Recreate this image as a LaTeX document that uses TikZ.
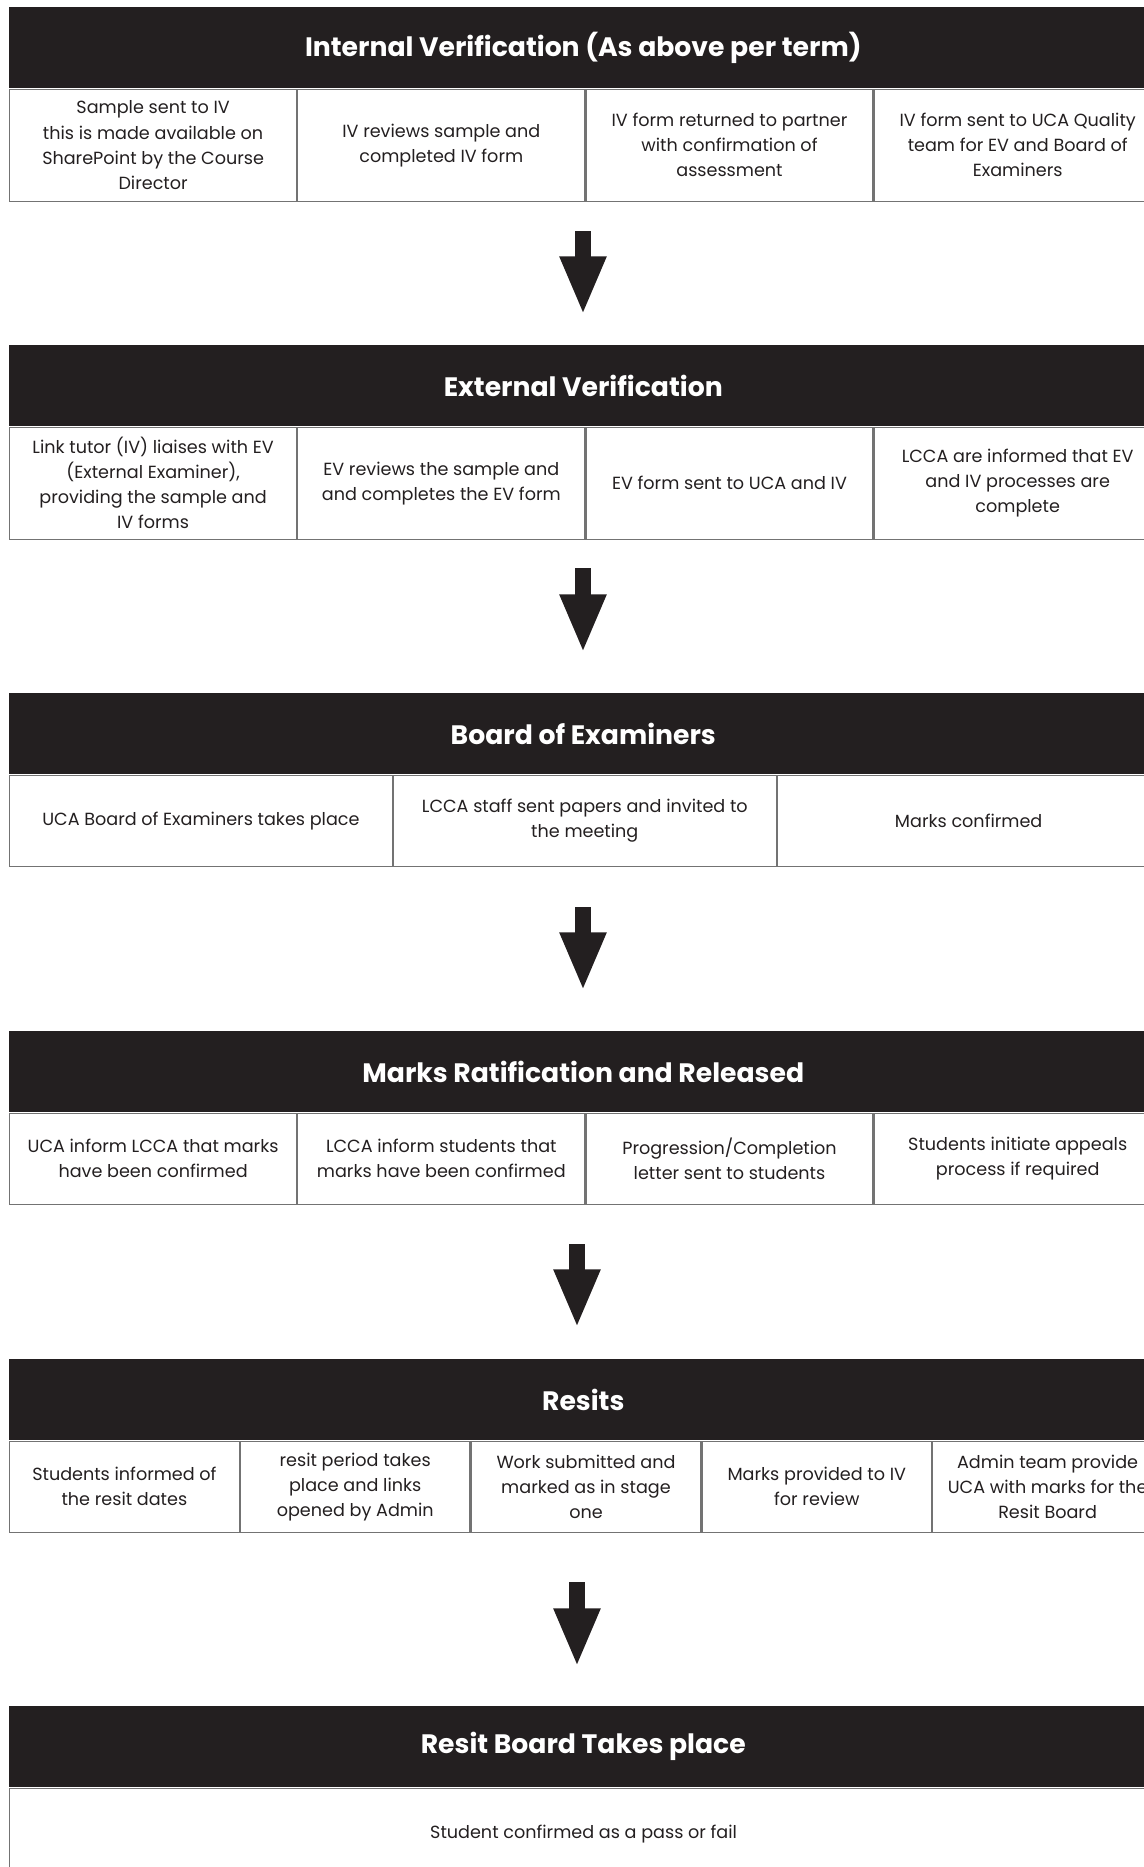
\documentclass[tikz,border=0pt]{standalone}
\usepackage{fontspec}
\setmainfont{Poppins}
\usepackage{tikz}
\usetikzlibrary{positioning}
\usetikzlibrary{arrows.meta}
\definecolor{hdrblack}{HTML}{231F20}
\tikzstyle{hdr}=[fill=hdrblack, text=white, anchor=north west, inner sep=0pt, minimum width=861pt, minimum height=60.75pt, font=\bfseries\fontsize{20}{24}\selectfont]
\tikzstyle{cell}=[draw=black!55, line width=0.9pt, text=hdrblack, align=center, inner sep=0pt, anchor=north west, font=\fontsize{13.2}{18.8}\selectfont]
\tikzstyle{colfour}=[cell, minimum width=215.25pt, minimum height=84pt]
\tikzstyle{colthree}=[cell, minimum width=287pt, minimum height=68.5pt]
\tikzstyle{colfive}=[cell, minimum width=172.2pt, minimum height=68.5pt]
\tikzstyle{colone}=[cell, minimum width=861pt, minimum height=68.5pt]
\tikzstyle{bigarrow}=[line width=12pt, hdrblack, -{Triangle[width=32pt,length=44pt]}]

\begin{document}
\begin{tikzpicture}[x=0.75pt, y=-0.75pt]
\useasboundingbox (0,0) rectangle (1144,1867);
% internal verification
\node[hdr] (ivhead) at (9,7) {Internal Verification (As above per term)};
\node[colfour] (iv1) at (ivhead.south west) {Sample sent to IV\\this is made available on\\SharePoint by the Course\\Director};
\node[colfour, right=0pt of iv1] (iv2) {IV reviews sample and\\completed IV form};
\node[colfour, right=0pt of iv2] (iv3) {IV form returned to partner\\with confirmation of\\assessment};
\node[colfour, right=0pt of iv3] (iv4) {IV form sent to UCA Quality\\team for EV and Board of\\Examiners};
% external verification
\node[hdr] (evhead) at (9,345) {External Verification};
\node[colfour] (ev1) at (evhead.south west) {Link tutor (IV) liaises with EV\\(External Examiner),\\providing the sample and\\IV forms};
\node[colfour, right=0pt of ev1] (ev2) {EV reviews the sample and\\and completes the EV form};
\node[colfour, right=0pt of ev2] (ev3) {EV form sent to UCA and IV};
\node[colfour, right=0pt of ev3] (ev4) {LCCA are informed that EV\\and IV processes are\\complete};
% board of examiners
\node[hdr] (bohead) at (9,693) {Board of Examiners};
\node[colthree] (bo1) at (bohead.south west) {UCA Board of Examiners takes place};
\node[colthree, right=0pt of bo1] (bo2) {LCCA staff sent papers and invited to\\the meeting};
\node[colthree, right=0pt of bo2] (bo3) {Marks confirmed};
% ratification
\node[hdr] (mrhead) at (9,1031) {Marks Ratification and Released};
\node[colfour, minimum height=68.5pt] (mr1) at (mrhead.south west) {UCA inform LCCA that marks\\have been confirmed};
\node[colfour, minimum height=68.5pt, right=0pt of mr1] (mr2) {LCCA inform students that\\marks have been confirmed};
\node[colfour, minimum height=68.5pt, right=0pt of mr2] (mr3) {Progression/Completion\\letter sent to students};
\node[colfour, minimum height=68.5pt, right=0pt of mr3] (mr4) {Students initiate appeals\\process if required};
% resits
\node[hdr] (rshead) at (9,1359) {Resits};
\node[colfive] (rs1) at (rshead.south west) {Students informed of\\the resit dates};
\node[colfive, right=0pt of rs1] (rs2) {resit period takes\\place and links\\opened by Admin};
\node[colfive, right=0pt of rs2] (rs3) {Work submitted and\\marked as in stage\\one};
\node[colfive, right=0pt of rs3] (rs4) {Marks provided to IV\\for review};
\node[colfive, right=0pt of rs4] (rs5) {Admin team provide\\UCA with marks for the\\Resit Board};
% resit board
\node[hdr] (rbhead) at (9,1706) {Resit Board Takes place};
\node[colone] (rb1) at (rbhead.south west) {Student confirmed as a pass or fail};
% arrows
\foreach \n/\x/\ya/\yb in {1/583/231/315, 2/583/568/653, 3/583/907/991, 4/577/1244/1328, 5/577/1582/1667}
{
  \coordinate (a\n s) at (\x,\ya);
  \coordinate (a\n e) at (\x,\yb);
  \draw[bigarrow] (a\n s) -- (a\n e);
}
\end{tikzpicture}
\end{document}
